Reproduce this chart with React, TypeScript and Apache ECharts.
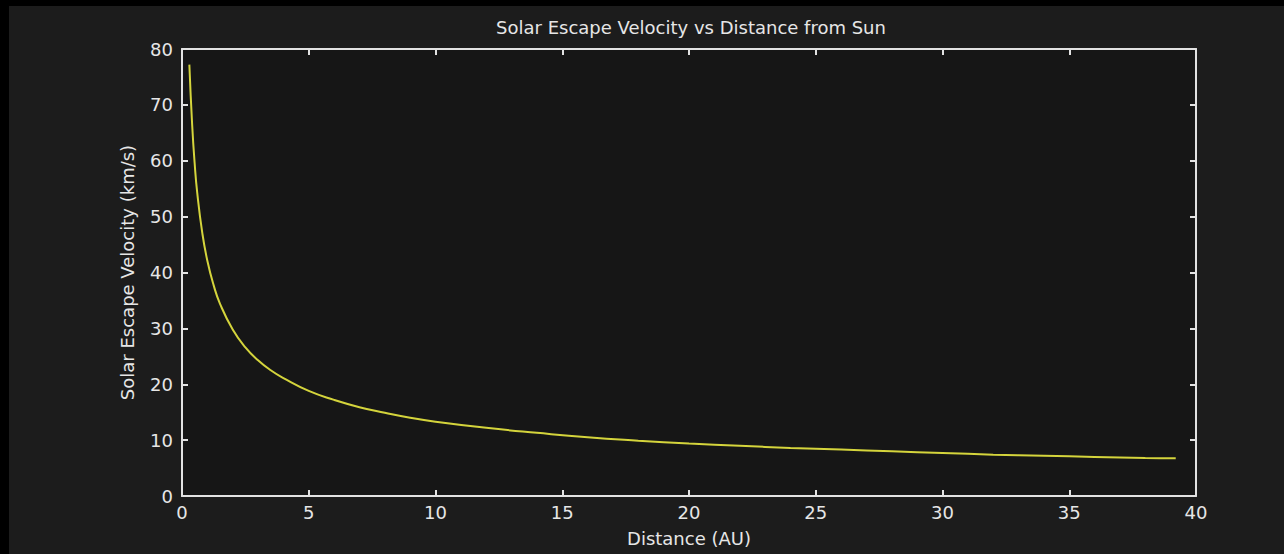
import React, { useEffect, useRef } from "react";
import * as echarts from "echarts";

const titleText = "Solar Escape Velocity vs Distance from Sun";
const xName = "Distance (AU)";
const yName = "Solar Escape Velocity (km/s)";

const distanceAU = [0.29, 0.4, 0.5, 0.6, 0.8, 1, 1.25, 1.5, 2, 2.5, 3, 3.5, 4, 5, 6, 7, 8, 9, 10, 12, 14, 16, 18, 20, 22, 24, 26, 28, 30, 32, 34, 36, 38, 39.2];
const velocityKms = [77.2, 66.5, 59.5, 54.3, 47.1, 42.1, 37.7, 34.4, 29.8, 26.6, 24.3, 22.5, 21.1, 18.8, 17.2, 15.9, 14.9, 14.0, 13.3, 12.2, 11.3, 10.5, 9.9, 9.4, 9.0, 8.6, 8.3, 8.0, 7.7, 7.4, 7.2, 7.0, 6.8, 6.75];

const FONT = "DejaVu Sans";
const AX = "#e2e2e2";

export default function App() {
  const ref = useRef<HTMLDivElement>(null);
  useEffect(() => {
    if (!ref.current) return;
    const chart = echarts.init(ref.current, undefined, { renderer: "svg" });
    const data = distanceAU.map((x, i) => [x, velocityKms[i]]);
    const commonX = {
      type: "value",
      min: 0,
      max: 40,
      interval: 5,
      splitLine: { show: false },
      axisLine: { show: true, onZero: false, lineStyle: { color: AX, width: 2 } },
      axisTick: { show: true, inside: true, length: 6, lineStyle: { color: AX, width: 2 } },
    };
    const commonY = {
      type: "value",
      min: 0,
      max: 80,
      interval: 10,
      splitLine: { show: false },
      axisLine: { show: true, onZero: false, lineStyle: { color: AX, width: 2 } },
      axisTick: { show: true, inside: true, length: 6, lineStyle: { color: AX, width: 2 } },
    };
    chart.setOption({
      animation: false,
      backgroundColor: "#1c1c1c",
      graphic: [
        { type: "rect", shape: { x: 0, y: 0, width: 1284, height: 6 }, style: { fill: "#000" }, silent: true },
        { type: "rect", shape: { x: 0, y: 0, width: 9, height: 554 }, style: { fill: "#000" }, silent: true },
      ],
      title: {
        text: titleText,
        left: 686,
        textAlign: "center",
        top: 13,
        textStyle: { color: "#e6e6e6", fontFamily: FONT, fontSize: 18, fontWeight: "normal" },
      },
      grid: {
        left: 182,
        top: 49,
        right: 88,
        bottom: 58,
        show: true,
        backgroundColor: "#161616",
        borderWidth: 0,
      },
      xAxis: [
        {
          ...commonX,
          position: "bottom",
          name: xName,
          nameLocation: "middle",
          nameGap: 33,
          nameTextStyle: { color: "#e6e6e6", fontFamily: FONT, fontSize: 18 },
          axisLabel: { color: "#e6e6e6", fontFamily: FONT, fontSize: 18, margin: 7 },
        },
        { ...commonX, position: "top", axisLabel: { show: false } },
      ],
      yAxis: [
        {
          ...commonY,
          position: "left",
          name: yName,
          nameLocation: "middle",
          nameGap: 46,
          nameTextStyle: { color: "#e6e6e6", fontFamily: FONT, fontSize: 18 },
          axisLabel: { color: "#e6e6e6", fontFamily: FONT, fontSize: 18, margin: 9 },
        },
        { ...commonY, position: "right", axisLabel: { show: false } },
      ],
      series: [
        {
          type: "line",
          data,
          showSymbol: false,
          smooth: true,
          lineStyle: { color: "#d4d43c", width: 2 },
          xAxisIndex: 0,
          yAxisIndex: 0,
        },
      ],
    });
    return () => chart.dispose();
  }, []);
  return (
    <div
      ref={ref}
      style={{ position: "fixed", left: 0, top: 0, width: 1284, height: 554 }}
    />
  );
}
